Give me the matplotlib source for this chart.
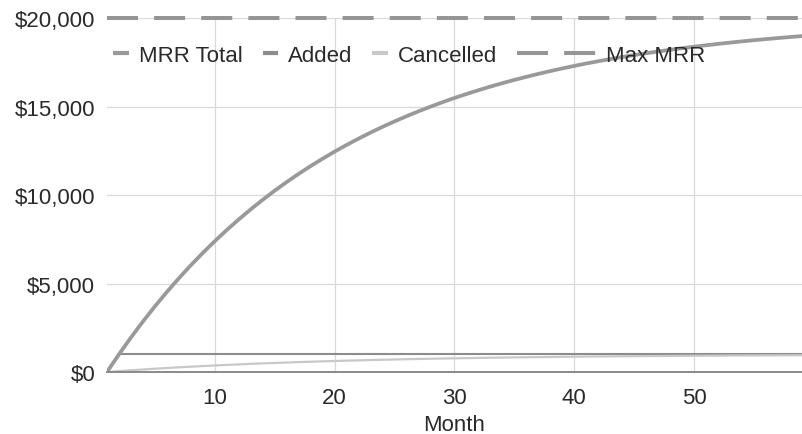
import matplotlib.pyplot as plt
from matplotlib.lines import Line2D
from matplotlib.ticker import FuncFormatter, MultipleLocator

plt.rcParams["font.family"] = ["Liberation Sans", "DejaVu Sans"]

# Monthly recurring revenue model, months 1-59
months = list(range(1, 60))
mrr_total = [
    0, 1000, 1950, 2853, 3710, 4524, 5298, 6034, 6732, 7395,
    8025, 8624, 9193, 9733, 10247, 10734, 11197, 11637, 12055, 12453,
    12830, 13189, 13529, 13853, 14160, 14452, 14730, 14993, 15243, 15481,
    15707, 15922, 16126, 16320, 16504, 16678, 16844, 17002, 17152, 17294,
    17430, 17558, 17680, 17796, 17907, 18011, 18111, 18205, 18295, 18380,
    18461, 18538, 18611, 18681, 18747, 18809, 18869, 18925, 18979,
]
added = [None] + [1000] * 58
cancelled = [
    0, 50, 98, 143, 186, 226, 265, 302, 337, 370,
    401, 431, 460, 487, 512, 537, 560, 582, 603, 623,
    642, 659, 676, 693, 708, 723, 737, 750, 762, 774,
    785, 796, 806, 816, 825, 834, 842, 850, 858, 865,
    872, 878, 884, 890, 895, 901, 906, 910, 915, 919,
    923, 927, 931, 934, 937, 940, 943, 946, 949,
]
max_mrr = 20000

COL_TOTAL = "#999999"
COL_ADDED = "#8c8c8c"
COL_CANCEL = "#c8c8c8"
COL_MAX = "#959595"
TEXT = "#2a2a2a"
FS = 16

added_plot = [float("nan") if v is None else v for v in added]

fig = plt.figure(figsize=(8.02, 4.35), dpi=100)
ax = fig.add_axes([0.1334, 0.1425, 0.8666, 0.8138])

ax.plot(months, mrr_total, color=COL_TOTAL, lw=2.7, zorder=4)
ax.plot(months, added_plot, color=COL_ADDED, lw=1.5, zorder=3)
ax.plot(months, cancelled, color=COL_CANCEL, lw=1.6, zorder=3)
ax.axhline(max_mrr, color=COL_MAX, lw=2.9, dashes=(7.7, 4.0),
           zorder=3, clip_on=False)
ax.axhline(0, color="#8a8a8a", lw=1.4, zorder=5, clip_on=False)

ax.set_xlim(1, 59)
ax.set_ylim(0, 20000)
ax.xaxis.set_major_locator(MultipleLocator(10))
ax.yaxis.set_major_locator(MultipleLocator(5000))
ax.yaxis.set_major_formatter(FuncFormatter(lambda v, _: f"${v:,.0f}"))

ax.grid(True, color="#d9d9d9", lw=0.9)
ax.set_axisbelow(True)
for side in ax.spines.values():
    side.set_visible(False)
ax.tick_params(length=0, labelsize=FS, colors=TEXT)
ax.tick_params(axis="y", pad=8.5)
ax.tick_params(axis="x", pad=11)
ax.set_xlabel("Month", fontsize=FS, color=TEXT, labelpad=4)

# legend keys are drawn as short thick strokes
keys = [
    Line2D([], [], color=COL_TOTAL, lw=3, solid_capstyle="butt", label="MRR Total"),
    Line2D([], [], color=COL_ADDED, lw=3, solid_capstyle="butt", label="Added"),
    Line2D([], [], color=COL_CANCEL, lw=3, solid_capstyle="butt", label="Cancelled"),
]
max_key = Line2D([], [], color=COL_MAX, lw=2.9, dashes=(7.7, 4.0), label="Max MRR")

leg1 = ax.legend(handles=keys, loc="center left", bbox_to_anchor=(0.009, 0.895),
                 ncol=3, frameon=False, fontsize=FS, labelcolor=TEXT,
                 handlelength=0.7, handletextpad=0.45, columnspacing=0.9,
                 borderpad=0, borderaxespad=0)
ax.add_artist(leg1)
ax.legend(handles=[max_key], loc="center left", bbox_to_anchor=(0.59, 0.895),
          frameon=False, fontsize=FS, labelcolor=TEXT, handlelength=3.6,
          handletextpad=0.4, borderpad=0, borderaxespad=0)

fig.savefig("out.png", dpi=100)
